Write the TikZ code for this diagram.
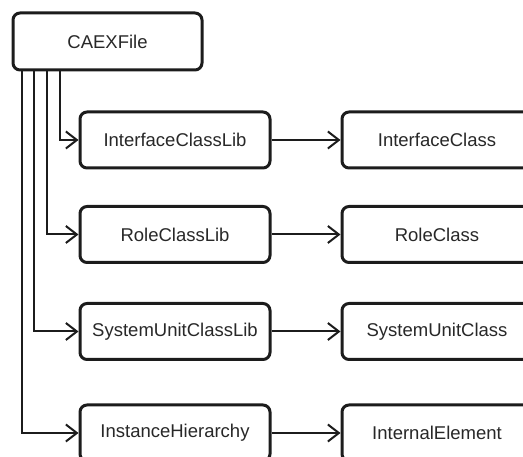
\documentclass[tikz,border=0pt]{standalone}
\usepackage{fontspec}
\setmainfont{Liberation Sans}
\usetikzlibrary{arrows.meta,calc}
\definecolor{ink}{RGB}{28,28,28}
\definecolor{txt}{RGB}{40,40,40}
\begin{document}
\begin{tikzpicture}[x=1pt,y=-1pt,
  box/.style={draw=ink, line width=3pt, rounded corners=7pt, fill=white,
    minimum width=190pt, minimum height=56pt, inner sep=0pt,
    font=\fontsize{18.5}{20}\selectfont, text=txt},
  conn/.style={draw=ink, line width=2pt,
    -{Straight Barb[length=11pt,width=17pt,line width=2pt]}}]
\useasboundingbox (0,0) rectangle (523,457);
\clip (0,0) rectangle (523,457);
\node[box, minimum width=189pt, minimum height=57pt] (caex) at (107.5,41.5) {CAEXFile};
\node[box] (icl)  at (175,140) {InterfaceClassLib};
\node[box] (rcl)  at (175,234.5) {RoleClassLib};
\node[box] (sucl) at (175,331.5) {SystemUnitClassLib};
\node[box] (ih)   at (175,433) {InstanceHierarchy};
\node[box] (ic)  at (437,140) {InterfaceClass};
\node[box] (rc)  at (437,234.5) {RoleClass};
\node[box] (suc) at (437,331.5) {SystemUnitClass};
\node[box] (ie)  at (437,433) {InternalElement};
\coordinate (s1) at (60,70);
\coordinate (s2) at (47,70);
\coordinate (s3) at (34,70);
\coordinate (s4) at (22,70);
\draw[conn] (s1) |- (icl.west);
\draw[conn] (s2) |- (rcl.west);
\draw[conn] (s3) |- (sucl.west);
\draw[conn] (s4) |- (ih.west);
\draw[conn] (icl) -- (ic);
\draw[conn] (rcl) -- (rc);
\draw[conn] (sucl) -- (suc);
\draw[conn] (ih) -- (ie);
\end{tikzpicture}
\end{document}
